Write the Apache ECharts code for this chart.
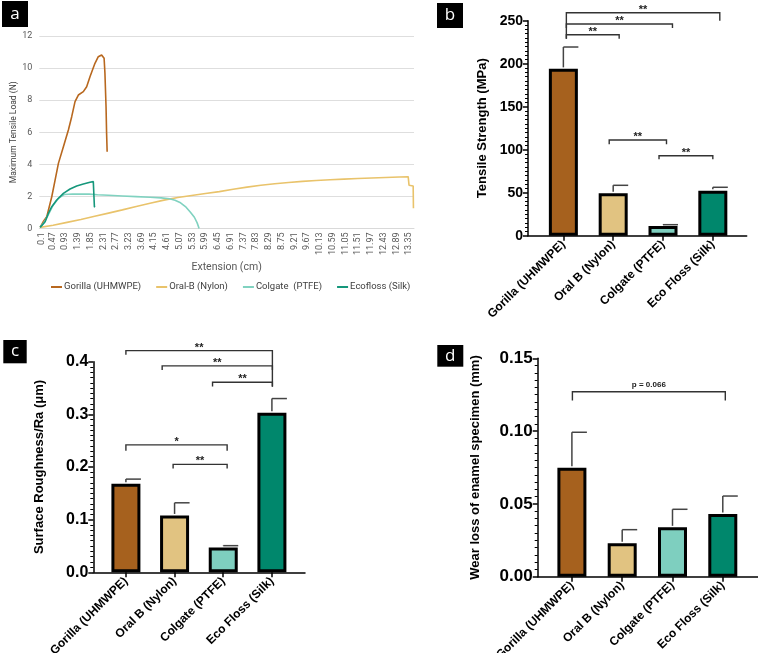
<!DOCTYPE html>
<html><head><meta charset="utf-8">
<script src="https://cdn.jsdelivr.net/npm/echarts@6/dist/echarts.min.js"></script>
<style>html,body{margin:0;padding:0;background:#fff}#c{width:758px;height:653px}</style>
</head><body><div id="c"></div><script>
// ---------- Panel a : load-extension curves ----------
const aXTickLabels = ['0.1','0.47','0.93','1.39','1.85','2.31','2.77','3.23','3.69','4.15','4.61','5.07','5.53','5.99','6.45','6.91','7.37','7.83','8.29','8.75','9.21','9.67','10.13','10.59','11.05','11.51','11.97','12.43','12.89','13.35'];
const curveNames = ['Gorilla (UHMWPE)','Oral-B (Nylon)','Colgate  (PTFE)','Ecofloss (Silk)'];
const gorillaCurve = [[0.03,0.07],[0.14,0.42],[0.27,0.74],[0.36,1.36],[0.45,1.98],[0.57,3.02],[0.69,4.06],[0.87,5.10],[1.05,6.14],[1.17,6.97],[1.29,7.91],[1.41,8.32],[1.59,8.53],[1.71,8.84],[1.83,9.46],[2.01,10.3],[2.13,10.71],[2.25,10.82],[2.34,10.61],[2.37,9.68],[2.41,7.59],[2.43,5.94],[2.45,4.79]];
const oralBCurve = [[0.03,0.07],[0.5,0.2],[1.0,0.38],[1.5,0.56],[2.0,0.76],[2.5,0.96],[3.0,1.16],[3.5,1.37],[4.0,1.57],[4.5,1.77],[5.0,1.93],[5.5,2.06],[6.0,2.18],[6.5,2.3],[7.0,2.45],[7.5,2.58],[8.0,2.7],[8.5,2.79],[9.0,2.87],[9.5,2.94],[10.0,2.99],[10.5,3.04],[11.0,3.08],[11.5,3.12],[12.0,3.15],[12.5,3.18],[13.0,3.21],[13.32,3.23],[13.35,2.7],[13.5,2.65],[13.51,1.26]];
const colgateCurve = [[0.03,0.07],[0.2,0.45],[0.35,0.95],[0.5,1.45],[0.7,1.9],[0.9,2.12],[1.2,2.15],[1.8,2.14],[2.1,2.1],[2.5,2.07],[3.0,2.03],[3.5,1.99],[4.0,1.95],[4.4,1.91],[4.7,1.85],[4.9,1.76],[5.1,1.6],[5.3,1.33],[5.45,1.03],[5.6,0.7],[5.7,0.35],[5.77,0]];
const ecoflossCurve = [[0.03,0.07],[0.21,0.42],[0.33,0.95],[0.45,1.36],[0.63,1.78],[0.87,2.19],[1.11,2.46],[1.35,2.65],[1.59,2.77],[1.83,2.88],[1.95,2.92],[1.99,2.82],[1.99,1.36],[2.01,1.32]];
const curveColors = ['#B8681F','#E9C36B','#80D2C0','#15977B'];

// ---------- Bar panels ----------
const categories = ['Gorilla (UHMWPE)','Oral B (Nylon)','Colgate (PTFE)','Eco Floss (Silk)'];
const barColors = ['#A6611E','#E1C381','#7ECFBF','#00876C'];
const tensileMean = [194, 49.3, 11.3, 52.3];
const tensileSD = [25.4, 9.3, 1.5, 4.0];
const roughMean = [0.168, 0.108, 0.047, 0.303];
const roughSD = [0.009, 0.024, 0.0036, 0.027];
const wearMean = [0.0749, 0.0229, 0.0339, 0.0431];
const wearSD = [0.0243, 0.0094, 0.0124, 0.0123];
// brackets: [x1, x2, yLine, yLeftEnd, yRightEnd]
const tensileBrackets = [[0.06,3.14,259.3,229,250],[0.06,2.19,246.2,241.5,241.5],[0.06,1.12,233.7,229,229],[0.92,2.07,111.3,106.3,106.3],[1.92,3.0,93,88.8,88.8]];
const tensileBracketText = ['**','**','**','**','**'];
const roughBrackets = [[0.0,3.01,0.421,0.413,0.3525],[0.745,3.01,0.392,0.384,0.384],[1.78,3.01,0.361,0.353,0.353],[0.0,2.08,0.242,0.231,0.231],[0.97,2.08,0.205,0.197,0.197]];
const roughBracketText = ['**','**','**','*','**'];
const wearBrackets = [[0.01,3.05,0.127,0.121,0.121]];
const wearBracketText = ['p = 0.066'];

const chart = echarts.init(document.getElementById('c'), null, {renderer:'canvas'});
const F = 'Liberation Sans, Arial, sans-serif';
const FA = 'Roboto, Noto Sans, sans-serif';

const grids = [
  {left:39.3, top:36, width:374.7, height:192.5, outerBoundsMode:'none'},
  {left:528, top:20.7, width:218.7, height:215, outerBoundsMode:'none'},
  {left:93.3, top:361.7, width:211.7, height:210.6, outerBoundsMode:'none'},
  {left:537.7, top:358.3, width:220.3, height:218.4, outerBoundsMode:'none'}
];
const xRanges = [null, [-0.71,3.68], [-0.67,3.68], [-0.68,3.7]];

const xAxes = [{
  gridIndex:0, type:'value', min:0, max:13.53,
  axisLine:{show:true, lineStyle:{color:'#d9d9d9', width:1}},
  axisTick:{show:false}, splitLine:{show:false},
  axisLabel:{customValues:aXTickLabels.map(Number), rotate:90, fontSize:9, color:'#595959', fontFamily:FA, margin:4,
    formatter:(v)=>{const i=aXTickLabels.map(Number).indexOf(v); return i>=0?aXTickLabels[i]:'';}},
  name:'Extension (cm)', nameLocation:'middle', nameGap:33, nameMoveOverlap:false,
  nameTextStyle:{fontSize:10.5, color:'#595959', fontFamily:FA}
}];
for (let g=1; g<=3; g++) {
  xAxes.push({
    gridIndex:g, type:'value', min:xRanges[g][0], max:xRanges[g][1],
    axisLine:{show:true, onZero:false, lineStyle:{color:'#000', width:1.5}},
    axisTick:{show:true, customValues:[0,1,2,3], length:5, lineStyle:{color:'#000', width:1.5}},
    splitLine:{show:false},
    axisLabel:{customValues:[0,1,2,3], rotate:45, fontSize:12, fontWeight:'bold', color:'#000', fontFamily:F, margin:7,
      formatter:(v)=>categories[Math.round(v)]}
  });
}
const yAxes = [{
  gridIndex:0, type:'value', min:0, max:12, interval:2,
  axisLine:{show:false, onZero:false}, axisTick:{show:false},
  splitLine:{show:true, lineStyle:{color:'#dedede', width:1}},
  axisLabel:{fontSize:9, color:'#595959', fontFamily:FA, margin:7},
  name:'Maximum Tensile Load (N)', nameLocation:'middle', nameGap:21, nameMoveOverlap:false,
  nameTextStyle:{fontSize:8.5, color:'#404040', fontFamily:FA}
}];
const ySpecs = [null,
  {max:250, interval:50, dec:0, name:'Tensile Strength (MPa)', gap:39, fs:14},
  {max:0.4, interval:0.1, dec:1, name:'Surface Roughness/Ra (\u03bcm)', gap:47, fs:16},
  {max:0.15, interval:0.05, dec:2, name:'Wear loss of enamel specimen (mm)', gap:56, fs:17}
];
for (let g=1; g<=3; g++) {
  const s = ySpecs[g];
  yAxes.push({
    gridIndex:g, type:'value', min:0, max:s.max, interval:s.interval,
    axisLine:{show:true, onZero:false, lineStyle:{color:'#000', width:1.5}},
    axisTick:{show:true, length:5, lineStyle:{color:'#000', width:1.5}},
    minorTick:{show:true, splitNumber:10, length:3, lineStyle:{color:'#000', width:1}},
    splitLine:{show:false},
    axisLabel:{fontSize:s.fs, fontWeight:'bold', color:'#000', fontFamily:F, margin:5,
      formatter:(v)=>v.toFixed(s.dec)},
    name:s.name, nameLocation:'middle', nameGap:s.gap, nameMoveOverlap:false,
    nameTextStyle:{fontSize:13, fontWeight:'bold', color:'#000', fontFamily:F}
  });
}

const series = [];
[gorillaCurve, oralBCurve, colgateCurve, ecoflossCurve].forEach((d,i)=>{
  series.push({type:'line', name:curveNames[i], xAxisIndex:0, yAxisIndex:0, data:d, symbol:'none',
    lineStyle:{color:curveColors[i], width:1.6}, itemStyle:{color:curveColors[i]}, z:2+i, animation:false});
});

function addBarPanel(g, means, sds, brackets, btexts, textFs) {
  series.push({
    type:'bar', xAxisIndex:g, yAxisIndex:g, barWidth:29, animation:false, z:3,
    data: means.map((m,i)=>({value:[i,m], itemStyle:{color:barColors[i], borderColor:'#000', borderWidth:3}}))
  });
  series.push({
    type:'custom', xAxisIndex:g, yAxisIndex:g, animation:false, z:4,
    data: means.map((m,i)=>[i, m, m+sds[i]]),
    renderItem:(params, api)=>{
      const a = api.coord([api.value(0), api.value(1)]);
      const b = api.coord([api.value(0), api.value(2)]);
      const st = {stroke:'#444', lineWidth:1.5};
      return {type:'group', children:[
        {type:'line', shape:{x1:a[0], y1:a[1]-1.5, x2:b[0], y2:b[1]}, style:st},
        {type:'line', shape:{x1:b[0], y1:b[1], x2:b[0]+15, y2:b[1]}, style:st}
      ]};
    }
  });
  series.push({
    type:'custom', xAxisIndex:g, yAxisIndex:g, animation:false, z:5, clip:false,
    data: brackets,
    renderItem:(params, api)=>{
      const x1=api.value(0), x2=api.value(1), y=api.value(2), yl=api.value(3), yr=api.value(4);
      const p1=api.coord([x1,y]), p2=api.coord([x2,y]), pl=api.coord([x1,yl]), pr=api.coord([x2,yr]);
      const st = {stroke:'#333', lineWidth:1.4, fill:null};
      return {type:'group', children:[
        {type:'polyline', shape:{points:[[pl[0],pl[1]],[p1[0],p1[1]],[p2[0],p2[1]],[pr[0],pr[1]]]}, style:st},
        {type:'text', style:{text:btexts[params.dataIndex], x:(p1[0]+p2[0])/2, y:p1[1]-(textFs>9?3:7), align:'center', verticalAlign:'middle',
          fontSize:textFs, fontWeight:'bold', fill:'#222', fontFamily:F}}
      ]};
    }
  });
}
addBarPanel(1, tensileMean, tensileSD, tensileBrackets, tensileBracketText, 11);
addBarPanel(2, roughMean, roughSD, roughBrackets, roughBracketText, 11);
addBarPanel(3, wearMean, wearSD, wearBrackets, wearBracketText, 8);

function panelBox(x,y,w,h,t){
  return {type:'group', children:[
    {type:'rect', shape:{x:x,y:y,width:w,height:h}, style:{fill:'#000'}},
    {type:'text', style:{text:t, x:x+w/2, y:y+h/2, align:'center', verticalAlign:'middle', fill:'#fff', fontSize:17, fontFamily:'Open Sans, sans-serif'}}
  ]};
}

chart.setOption({
  animation:false,
  backgroundColor:'#fff',
  grid:grids, xAxis:xAxes, yAxis:yAxes, series:series,
  legend:{data:curveNames.map(n=>({name:n, icon:'rect'})), left:46, top:277, itemWidth:11, itemHeight:2, itemGap:15,
    textStyle:{fontSize:9.5, color:'#404040', fontFamily:FA, padding:[0,0,0,-3]}},
  graphic:[panelBox(2,1,26,26,'a'), panelBox(437,3,26,25,'b'), panelBox(3.3,340,23.4,23.3,'c'), panelBox(437.3,345,26,21.7,'d')]
});
</script></body></html>
